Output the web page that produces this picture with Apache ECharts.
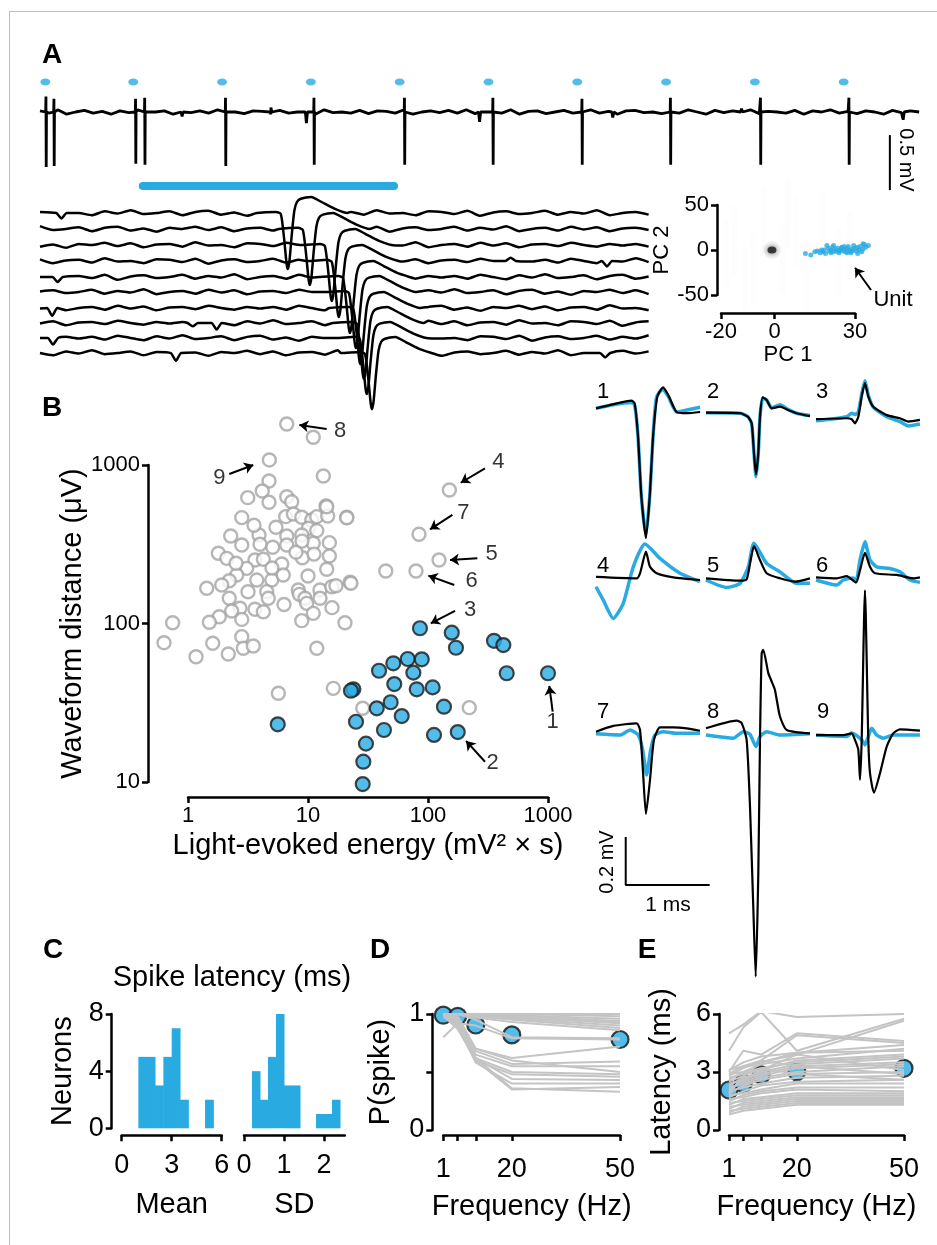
<!DOCTYPE html>
<html>
<head>
<meta charset="utf-8">
<script src="https://cdn.jsdelivr.net/npm/echarts@6/dist/echarts.min.js"></script>
<style>
  html, body { margin: 0; padding: 0; background: #fff; }
  #frame { position: absolute; left: 9px; top: 11px; width: 940px; height: 1240px;
           border-left: 1px solid #bdbdbd; border-top: 1px solid #bdbdbd; }
  #chart { position: absolute; left: 0; top: 0; width: 937px; height: 1245px; }
</style>
</head>
<body>
<div id="frame"></div>
<div id="chart"></div>
<script>
// ---------- A: continuous recording (time s, mV) ----------
const pulseTimes = [0.06, 1.05, 2.05, 3.05, 4.05, 5.05, 6.05, 7.05, 8.05, 9.05];
const spikeTimes = [0.068, 0.158, 1.077, 1.180, 2.090, 3.086, 4.105, 5.101, 6.104, 7.100, 8.114, 9.110];
const spikeDepths = [-0.50, -0.49, -0.47, -0.48, -0.49, -0.48, -0.48, -0.48, -0.48, -0.48, -0.48, -0.48];
const spikeTops = [0.14, 0.12, 0.12, 0.13, 0.13, 0.13, 0.13, 0.13, 0.12, 0.13, 0.13, 0.13];
// baseline noise, one value every 0.1 s
const noiseA = [0.01, -0.01, 0.02, -0.02, 0.0, 0.015, -0.01, 0.005, -0.02, 0.01,
  -0.005, 0.02, -0.015, 0.0, 0.01, -0.02, 0.015, -0.005, 0.01, -0.01,
  0.02, -0.01, 0.0, -0.015, 0.01, 0.005, -0.02, 0.015, -0.01, 0.0,
  0.01, -0.02, 0.02, -0.005, 0.0, -0.01, 0.015, -0.015, 0.01, 0.005,
  -0.01, 0.02, -0.02, 0.0, 0.01, -0.005, 0.015, -0.01, 0.02, -0.015,
  0.0, 0.01, -0.01, 0.02, -0.02, 0.005, 0.01, -0.015, 0.0, 0.015,
  -0.01, 0.0, 0.02, -0.01, 0.005, -0.02, 0.01, 0.015, -0.005, 0.0,
  -0.015, 0.01, -0.01, 0.02, 0.0, -0.02, 0.015, -0.005, 0.01, -0.01,
  0.02, -0.015, 0.005, 0.0, -0.01, 0.015, -0.02, 0.01, 0.0, 0.02,
  -0.01, 0.005, -0.015, 0.01, 0.0, -0.02, 0.015, -0.005, 0.01, 0.0];
const blipsA = [[3.0, -0.10], [4.95, -0.09], [9.72, -0.07], [2.6, 0.04], [6.45, -0.05], [1.6, -0.04], [7.9, 0.03]];

// ---------- A: aligned trials (ms from light onset, mV) ----------
const latencies = [5.75, 6.60, 7.45, 7.72, 8.15, 8.38, 8.55, 8.69, 8.80, 9.00];
const trialOffsets = [0, -0.145, -0.291, -0.436, -0.582, -0.718, -0.864, -1.0, -1.136, -1.273];
const spikeShape = [[-1.2, 0], [-0.45, 0.01], [-0.27, -0.01], [-0.15, -0.22], [-0.05, -0.46], [0, -0.51],
  [0.06, -0.44], [0.15, -0.2], [0.25, 0.02], [0.35, 0.1], [0.5, 0.13], [0.9, 0.145], [1.3, 0.1], [1.8, 0.04], [2.3, 0]];
const trialNoise = [0.01, -0.015, 0.02, 0.0, -0.02, 0.015, -0.005, 0.025, -0.01, 0.0,
  0.015, -0.02, 0.01, 0.02, -0.015, 0.005, -0.025, 0.01, 0.0, 0.02,
  -0.01, 0.015, -0.02, 0.005, 0.01, -0.015, 0.025, -0.005, 0.0, -0.02,
  0.015, 0.01, -0.01, 0.02, -0.025, 0.005, 0.015, -0.01, 0.0, 0.02,
  -0.015, 0.01, -0.005, 0.025, -0.02, 0.0, 0.01, -0.015, 0.02, -0.005,
  0.015, -0.02, 0.005, 0.01, -0.01, 0.02, 0.0, -0.015, 0.01, -0.005];
const trialBlips = [[0, -2.99, -0.05], [4, -3.14, -0.045], [6, -3.35, -0.07], [7, 2.08, -0.03], [7, 3.0, -0.06],
  [8, -3.32, -0.06], [9, 1.43, -0.07], [9, 18.0, -0.04], [3, 18.07, -0.05], [3, 14.35, 0.03]];
const lightOn = [0.15, 9.85];

// ---------- A: PCA inset ----------
const unitPC = [[11.5, -4], [13.5, -5.5], [15, -2], [16, -1], [17, -3], [18, -2], [18.5, 0], [19, -4], [20, 2], [20.5, -1],
  [21, 0], [21.5, 3], [22, -2], [22.5, 1], [23, -1], [23.5, 2], [24, -3], [24.5, 0], [25, 3], [25.5, -1],
  [26, 1], [26.5, -2], [27, 2], [27.5, 4], [28, 0], [28.5, -3], [29, 1], [29.5, 5], [30, 2], [30.5, -1],
  [31, 3], [31.5, 0], [32, 4], [32.5, -2], [33, 1], [33.5, 6], [34, 3], [35, 5], [19.5, 5], [22, 5],
  [26, 4], [28, -1], [31, -4], [24, -1], [27, -3], [29, -1], [25, 2], [21, -3], [17.5, 0], [33, 7]];
const noiseCluster = [[-1, 0]];
const noiseStreaks = [[-15, 10], [-8, -20], [-4, 30], [3, -10], [8, 20], [12, -30], [18, 25], [24, -15], [28, 5], [-11, -35], [5, 40], [-18, -5]];
const unitArrow = [[35.97, -44.4], [30, -19.7]];

// ---------- B: log10 energy, log10 waveform distance ----------
const grayLog = [
  [0.823, 3.259], [1.044, 3.175], [0.678, 3.032], [1.128, 2.931], [0.675, 2.899], [0.619, 2.836], [0.498, 2.794], [0.675, 2.765], [0.823, 2.80], [0.864, 2.768],
  [1.15, 2.741], [0.448, 2.668], [0.814, 2.674], [0.878, 2.691], [0.948, 2.67], [1.031, 2.653], [1.073, 2.674], [1.164, 2.678], [1.323, 2.67], [1.003, 2.601],
  [0.733, 2.607], [0.592, 2.558], [0.356, 2.552], [0.823, 2.552], [0.948, 2.558], [1.073, 2.586], [0.448, 2.495], [0.253, 2.443], [0.323, 2.411], [0.706, 2.481],
  [0.823, 2.495], [1.044, 2.506], [1.178, 2.51], [1.178, 2.426], [0.953, 2.415], [1.05, 2.438], [0.558, 2.401], [0.628, 2.405], [0.781, 2.375], [0.489, 2.348],
  [0.573, 2.274], [0.698, 2.274], [0.794, 2.306], [0.406, 2.306], [0.344, 2.27], [0.281, 2.243], [0.156, 2.222], [0.656, 2.201], [1.156, 2.342], [0.919, 2.211],
  [0.928, 2.184], [1.10, 2.211], [1.198, 2.232], [1.233, 2.238], [1.35, 2.26], [0.344, 2.159], [0.669, 2.159], [0.975, 2.159], [1.10, 2.159], [0.433, 2.096],
  [0.558, 2.09], [0.628, 2.074], [0.364, 2.079], [0.989, 2.127], [1.044, 2.064], [0.448, 2.026], [0.261, 2.043], [0.178, 2.008], [0.948, 2.018], [1.308, 2.005],
  [-0.128, 2.005], [-0.2, 1.879], [0.206, 1.875], [0.448, 1.917], [0.461, 1.844], [0.544, 1.858], [0.336, 1.808], [0.067, 1.79], [1.073, 1.844], [0.753, 1.56],
  [1.211, 1.591], [1.456, 1.465], [2.178, 2.842], [1.925, 2.563], [2.092, 2.401], [1.90, 2.331], [1.648, 2.331], [2.344, 1.469], [1.358, 2.254], [1.156, 2.737],
  [1.323, 2.667], [0.55, 2.62], [0.9, 2.45], [0.7, 2.35], [1.0, 2.3], [0.5, 2.2], [0.8, 2.12], [1.2, 2.1], [0.6, 2.5], [0.95, 2.52], [0.4, 2.38]];
const blueLog = [
  [1.933, 1.970], [2.198, 1.942], [2.233, 1.847], [2.55, 1.891], [2.628, 1.864], [2.656, 1.686], [3.0, 1.686], [1.592, 1.702], [1.711, 1.749], [1.831, 1.776],
  [1.948, 1.774], [1.878, 1.690], [1.719, 1.618], [1.906, 1.585], [2.039, 1.597], [1.378, 1.585], [1.358, 1.576], [1.573, 1.465], [1.689, 1.503], [1.781, 1.416],
  [2.133, 1.475], [1.40, 1.380], [1.633, 1.328], [2.05, 1.297], [2.248, 1.315], [1.483, 1.242], [1.461, 1.128], [1.456, 0.987], [0.748, 1.364]];
// arrows: tail (log x, log y) -> head (log x, log y)
const arrowsB = [[1.156, 3.227, 0.928, 3.252], [0.344, 2.943, 0.544, 3.0], [2.475, 2.979, 2.273, 2.888],
  [2.203, 2.685, 2.017, 2.594], [2.411, 2.411, 2.183, 2.401], [2.219, 2.243, 2.003, 2.302],
  [2.225, 2.079, 2.023, 2.001], [3.039, 1.444, 3.011, 1.606], [2.475, 1.128, 2.317, 1.259]];
const labelsB = [['8', 1.267, 3.216], ['9', 0.261, 2.916], ['4', 2.586, 3.021], ['7', 2.294, 2.695], ['5', 2.531, 2.438],
  ['6', 2.364, 2.268], ['3', 2.35, 2.085], ['1', 3.039, 1.38], ['2', 2.539, 1.118]];

// ---------- B: mean waveforms (ms within window, mV from baseline) ----------
const wfBlack = [
  [[0, 0.015], [0.2, 0.032], [0.42, 0.047], [0.46, 0.036], [0.5, -0.1], [0.54, -0.35], [0.595, -0.526], [0.64, -0.35], [0.68, -0.1], [0.73, 0.064], [0.8, 0.103], [0.86, 0.071], [0.96, 0], [1.08, -0.005], [1.24, 0]],
  [[0, -0.003], [0.405, -0.005], [0.5, -0.02], [0.544, -0.047], [0.571, -0.17], [0.595, -0.26], [0.623, -0.17], [0.643, -0.02], [0.675, 0.061], [0.722, 0.05], [0.782, 0.015], [0.881, 0.022], [0.98, 0.008], [1.08, -0.005], [1.238, -0.017]],
  [[0, -0.03], [0.365, -0.026], [0.425, -0.03], [0.464, -0.047], [0.504, -0.02], [0.544, 0.064], [0.583, 0.12], [0.623, 0.064], [0.682, 0.022], [0.842, -0.013], [1.0, -0.026], [1.099, -0.04], [1.238, -0.033]],
  [[0, 0.005], [0.484, -0.001], [0.524, 0.02], [0.595, 0.11], [0.643, 0.047], [0.722, 0.02], [0.92, 0.003], [1.238, -0.008]],
  [[0, -0.001], [0.405, -0.011], [0.484, -0.005], [0.532, 0.075], [0.571, 0.133], [0.643, 0.075], [0.722, 0.02], [0.881, -0.001], [1.06, -0.015], [1.238, -0.001]],
  [[0, 0.003], [0.246, -0.001], [0.365, 0.008], [0.476, -0.018], [0.524, 0.033], [0.583, 0.105], [0.643, 0.047], [0.702, 0.02], [0.961, 0.013], [1.159, -0.001], [1.238, 0.003]],
  [[0, 0.001], [0.206, 0.025], [0.484, 0.036], [0.524, 0.008], [0.556, -0.144], [0.595, -0.342], [0.643, -0.2], [0.69, -0.033], [0.762, 0.019], [0.92, 0.019], [1.08, 0.015], [1.238, 0.005]],
  [[0, 0.015], [0.365, 0.047], [0.425, 0.036], [0.484, -0.033], [0.524, -0.311], [0.563, -0.728], [0.592, -1.02], [0.623, -0.589], [0.643, -0.033], [0.663, 0.328], [0.682, 0.342], [0.742, 0.245], [0.782, 0.21], [0.821, 0.175], [0.881, 0.064], [0.961, 0.008], [1.238, -0.006]],
  [[0, -0.013], [0.325, -0.013], [0.425, -0.006], [0.464, -0.033], [0.504, -0.075], [0.524, -0.2], [0.544, -0.033], [0.583, 0.59], [0.623, -0.033], [0.643, -0.172], [0.69, -0.253], [0.762, -0.172], [0.842, -0.061], [0.92, -0.006], [1.0, 0.011], [1.238, 0.005]]];
const wfBlue = [
  [[0, 0.015], [0.2, 0.03], [0.42, 0.04], [0.46, 0.03], [0.5, -0.1], [0.54, -0.35], [0.595, -0.51], [0.64, -0.35], [0.68, -0.1], [0.72, 0.06], [0.79, 0.095], [0.86, 0.065], [0.96, 0.0], [1.08, 0.008], [1.24, 0.02]],
  [[0, -0.003], [0.405, -0.005], [0.5, -0.02], [0.544, -0.05], [0.571, -0.17], [0.595, -0.27], [0.623, -0.17], [0.643, -0.02], [0.675, 0.058], [0.722, 0.05], [0.782, 0.018], [0.881, 0.03], [0.98, 0.01], [1.08, -0.005], [1.238, -0.015]],
  [[0, -0.037], [0.365, -0.02], [0.425, -0.005], [0.464, -0.01], [0.504, 0.0], [0.544, 0.075], [0.583, 0.13], [0.623, 0.07], [0.682, 0.02], [0.842, -0.02], [1.0, -0.04], [1.099, -0.058], [1.238, -0.05]],
  [[0, -0.036], [0.087, -0.092], [0.206, -0.168], [0.325, -0.105], [0.444, 0.047], [0.583, 0.142], [0.762, 0.082], [1.0, 0.02], [1.238, -0.015]],
  [[0, -0.008], [0.246, -0.039], [0.405, -0.022], [0.504, 0.047], [0.571, 0.145], [0.722, 0.061], [0.881, 0.026], [1.08, -0.022], [1.238, -0.022]],
  [[0, -0.008], [0.246, -0.029], [0.325, -0.008], [0.444, 0.0], [0.476, -0.015], [0.524, 0.075], [0.583, 0.151], [0.643, 0.075], [0.722, 0.047], [0.881, 0.04], [1.0, 0.026], [1.119, -0.008], [1.238, -0.018]],
  [[0, -0.008], [0.286, -0.013], [0.405, 0.008], [0.504, -0.013], [0.556, -0.075], [0.603, -0.179], [0.651, -0.075], [0.702, -0.013], [0.801, 0.001], [0.961, -0.006], [1.238, -0.006]],
  [[0, -0.013], [0.206, -0.022], [0.325, -0.026], [0.444, 0.001], [0.524, -0.01], [0.595, -0.061], [0.643, -0.019], [0.722, 0.001], [0.881, -0.013], [1.238, -0.008]],
  [[0, -0.013], [0.365, -0.019], [0.425, -0.005], [0.544, -0.033], [0.583, -0.054], [0.623, -0.019], [0.663, 0.015], [0.722, -0.013], [0.801, -0.026], [0.92, -0.013], [1.238, -0.013]]];
const wfColStart = [0, 1.31, 2.62];     // ms
const wfRowBase = [0, -0.692, -1.333];  // mV
const wfScaleBar = [[0.354, -1.771], [0.354, -1.971], [1.354, -1.971]];

// ---------- C: latency histograms [bin start, bin end, neurons] ----------
const histMean = [[1, 1.5, 5], [1.5, 2, 5], [2, 2.5, 3], [2.5, 3, 5], [3, 3.5, 7], [3.5, 4, 2], [5, 5.5, 2]];
const histSD = [[0.2, 0.4, 4], [0.4, 0.6, 2], [0.6, 0.8, 5], [0.8, 1.0, 8], [1.0, 1.2, 3], [1.2, 1.4, 3], [1.8, 2.0, 1], [2.0, 2.2, 1], [2.2, 2.4, 2]];

// ---------- D, E: frequency following ----------
const freqs = [1, 5, 10, 20, 50];
const freqLabels = [1, 20, 50];
const pLines = [
  [1, 1, 1, 1, 1], [1, 1, 1, 1, 0.98], [1, 1, 1, 0.99, 0.96], [1, 1, 1, 0.98, 0.94], [1, 1, 1, 0.97, 0.92],
  [1, 1, 0.99, 0.96, 0.9], [1, 1, 0.98, 0.95, 0.88], [1, 1, 0.97, 0.93, 0.86], [1, 1, 1, 0.99, 0.93],
  [1, 1, 0.95, 0.8, 0.79], [0.8, 0.92, 0.9, 0.79, 0.78], [1, 0.98, 0.7, 0.62, 0.72], [1, 0.97, 0.68, 0.57, 0.59],
  [1, 0.95, 0.65, 0.55, 0.55], [1, 0.93, 0.62, 0.5, 0.48], [1, 0.92, 0.6, 0.48, 0.46], [1, 0.9, 0.62, 0.44, 0.43],
  [1, 0.9, 0.58, 0.4, 0.4], [1, 0.88, 0.62, 0.36, 0.33], [0.98, 0.87, 0.6, 0.35, 0.37], [1, 0.95, 0.7, 0.6, 0.5]];
const pMean = [0.99, 0.98, 0.905, 0.82, 0.78];
const latLines = [
  [5.0, 5.45, 6.15, 5.85, 6.0], [4.1, 5.3, 6.1, 4.1, 5.75], [3.0, 4.1, 3.9, 5.0, 4.6], [2.9, 3.3, 3.6, 4.9, 4.5],
  [3.1, 3.3, 3.5, 3.9, 5.65], [2.8, 3.2, 3.5, 4.0, 4.4], [2.6, 3.0, 3.4, 3.7, 4.2], [2.7, 2.9, 3.1, 3.6, 3.9],
  [2.5, 2.8, 3.2, 3.5, 3.8], [2.3, 2.7, 3.0, 3.4, 3.7], [2.4, 2.6, 2.9, 3.3, 3.5], [2.1, 2.5, 2.8, 3.2, 3.4],
  [2.2, 2.4, 2.7, 3.0, 3.3], [1.9, 2.3, 2.6, 2.9, 3.0], [2.0, 2.2, 2.4, 2.7, 2.8], [1.7, 2.0, 2.3, 2.5, 2.6],
  [1.8, 1.9, 2.1, 2.4, 2.4], [1.5, 1.8, 2.0, 2.2, 2.2], [1.6, 1.7, 1.9, 2.1, 2.0], [1.3, 1.6, 1.7, 1.9, 1.9],
  [1.4, 1.5, 1.6, 1.8, 1.8], [1.1, 1.4, 1.5, 1.7, 1.7], [1.2, 1.3, 1.4, 1.6, 1.6], [0.9, 1.2, 1.3, 1.5, 1.5],
  [1.0, 1.1, 1.2, 1.4, 1.4], [0.8, 1.0, 1.1, 1.3, 1.3], [2.9, 3.0, 3.2, 2.9, 2.6], [2.0, 2.6, 3.1, 3.9, 3.1],
  [3.1, 3.5, 3.8, 4.0, 4.1], [1.9, 2.8, 3.6, 3.3, 2.9]];
const latMean = [2.07, 2.41, 2.85, 3.02, 3.19];

// ---------- styling ----------
const FONT = 'Liberation Sans, Arial, Helvetica, sans-serif';
const BLUE = '#29abe2';
const GREY_LINE = '#c4c4c4';
const TITLE = 29;

function shownAxis(o, labelSize, labelMargin) {
  const base = {
    type: 'value',
    axisLine: { show: true, onZero: false, lineStyle: { color: '#000', width: 2.5 } },
    axisTick: { show: true, length: 6, lineStyle: { color: '#000', width: 2.5 } },
    axisLabel: { color: '#000', fontSize: labelSize, fontFamily: FONT, margin: labelMargin || 8 },
    splitLine: { show: false },
    nameLocation: 'middle',
    nameTextStyle: { color: '#000', fontSize: TITLE, fontFamily: FONT }
  };
  ['axisTick', 'axisLabel', 'nameTextStyle'].forEach(k => {
    if (o[k]) { o[k] = Object.assign({}, base[k], o[k]); }
  });
  return Object.assign(base, o);
}
function hiddenAxis(o) { return Object.assign({ type: 'value', show: false }, o); }

// build continuous trace
const traceA = noiseA.map((v, i) => [i * 0.1, v]);
spikeTimes.forEach((t, i) => {
  traceA.push([t - 0.004, 0], [t - 0.001, spikeTops[i]], [t + 0.002, spikeDepths[i]], [t + 0.005, 0]);
});
blipsA.forEach(([t, a]) => traceA.push([t - 0.012, 0], [t, a], [t + 0.012, 0]));
traceA.sort((a, b) => a[0] - b[0]);

// build aligned trials
function trialTrace(i) {
  const lat = latencies[i], off = trialOffsets[i];
  const myBlips = trialBlips.filter(b => b[0] === i);
  const pts = [];
  for (let j = 0; -3.82 + j * 0.5 <= 19.81; j++) {
    const t = -3.82 + j * 0.5;
    if (t > lat - 1.3 && t < lat + 2.4) continue;
    if (myBlips.some(b => Math.abs(b[1] - t) < 0.35)) continue;
    pts.push([t, off + trialNoise[(j + 7 * i) % trialNoise.length]]);
  }
  spikeShape.forEach(p => pts.push([lat + p[0], off + p[1]]));
  myBlips.forEach(b => pts.push([b[1] - 0.2, off], [b[1], off + b[2]], [b[1] + 0.2, off]));
  return pts.sort((a, b) => a[0] - b[0]);
}

const series = [];
// A top
series.push({ type: 'line', xAxisIndex: 0, yAxisIndex: 0, data: traceA, showSymbol: false, silent: true,
  lineStyle: { color: '#000', width: 2.8 } });
series.push({ type: 'scatter', xAxisIndex: 0, yAxisIndex: 0, data: pulseTimes.map(t => [t, 0.273]),
  symbol: 'circle', symbolSize: [10, 7], itemStyle: { color: BLUE } });
series.push({ type: 'line', xAxisIndex: 0, yAxisIndex: 0, data: [[9.57, -0.21], [9.57, -0.71]], showSymbol: false,
  lineStyle: { color: '#000', width: 2 } });
// A trials
series.push({ type: 'line', xAxisIndex: 1, yAxisIndex: 1, data: lightOn.map(t => [t, 0.245]), showSymbol: false,
  lineStyle: { color: BLUE, width: 8, cap: 'round' } });
latencies.forEach((_, i) => series.push({ type: 'line', xAxisIndex: 1, yAxisIndex: 1, data: trialTrace(i),
  showSymbol: false, smooth: 0.2, lineStyle: { color: '#000', width: 2.5 } }));
// PCA inset
series.push({ type: 'scatter', xAxisIndex: 2, yAxisIndex: 2, data: noiseStreaks, symbol: 'rect', symbolSize: [6, 70],
  itemStyle: { color: 'rgba(0,0,0,0.012)' }, clip: false, silent: true });
series.push({ type: 'scatter', xAxisIndex: 2, yAxisIndex: 2, data: noiseCluster, symbolSize: 18,
  itemStyle: { color: 'rgba(0,0,0,0.06)', shadowBlur: 8, shadowColor: 'rgba(0,0,0,0.25)' } });
series.push({ type: 'scatter', xAxisIndex: 2, yAxisIndex: 2, data: noiseCluster, symbolSize: [9, 7],
  itemStyle: { color: '#1a1a1a', shadowBlur: 5, shadowColor: 'rgba(0,0,0,0.7)' } });
series.push({ type: 'scatter', xAxisIndex: 2, yAxisIndex: 2, data: unitPC, symbolSize: 5, clip: false,
  itemStyle: { color: BLUE } });
series.push({ type: 'lines', coordinateSystem: 'cartesian2d', xAxisIndex: 2, yAxisIndex: 2, clip: false,
  data: [{ coords: unitArrow }], symbol: ['none', 'arrow'], symbolSize: 9,
  lineStyle: { color: '#000', width: 2, opacity: 1 } });
// B scatter
const pow10 = p => [Math.pow(10, p[0]), Math.pow(10, p[1])];
series.push({ type: 'scatter', xAxisIndex: 3, yAxisIndex: 3, data: grayLog.map(pow10), symbolSize: 13, clip: false,
  itemStyle: { color: '#fff', borderColor: '#a4a4a4', borderWidth: 2.4 } });
series.push({ type: 'scatter', xAxisIndex: 3, yAxisIndex: 3, data: blueLog.map(pow10), symbolSize: 14, clip: false,
  itemStyle: { color: BLUE, borderColor: '#1a1a1a', borderWidth: 2.2 } });
series.push({ type: 'lines', coordinateSystem: 'cartesian2d', xAxisIndex: 3, yAxisIndex: 3, clip: false,
  data: arrowsB.map(a => ({ coords: [pow10([a[0], a[1]]), pow10([a[2], a[3]])] })),
  symbol: ['none', 'arrow'], symbolSize: 9, lineStyle: { color: '#000', width: 2, opacity: 1 } });
series.push({ type: 'scatter', xAxisIndex: 3, yAxisIndex: 3, clip: false, symbolSize: 1,
  itemStyle: { color: 'transparent' },
  data: labelsB.map(l => ({ name: l[0], value: pow10([l[1], l[2]]) })),
  label: { show: true, position: 'inside', formatter: '{b}', color: '#000', fontSize: 22, fontFamily: FONT } });
// B waveforms
[wfBlue, wfBlack].forEach((set, k) => {
  set.forEach((wf, i) => {
    const c = wfColStart[i % 3], r = wfRowBase[Math.floor(i / 3)];
    series.push({ type: 'line', xAxisIndex: 4, yAxisIndex: 4, showSymbol: false, smooth: 0.2,
      data: wf.map(p => [c + p[0], r + p[1]]),
      lineStyle: k === 0 ? { color: BLUE, width: 3.5 } : { color: '#000', width: 2.2 } });
  });
});
series.push({ type: 'line', xAxisIndex: 4, yAxisIndex: 4, data: wfScaleBar, showSymbol: false,
  lineStyle: { color: '#000', width: 2 } });
// C histograms
function histSeries(data, ax) {
  return { type: 'custom', xAxisIndex: ax, yAxisIndex: ax, data: data, encode: { x: [0, 1], y: 2 },
    renderItem: (params, api) => {
      const p0 = api.coord([api.value(0), api.value(2)]);
      const p1 = api.coord([api.value(1), 0]);
      return { type: 'rect', shape: { x: p0[0], y: p0[1], width: p1[0] - p0[0] + 0.5, height: p1[1] - p0[1] },
        style: { fill: BLUE } };
    } };
}
series.push(histSeries(histMean, 5));
series.push(histSeries(histSD, 6));
// D, E
pLines.forEach(l => series.push({ type: 'line', xAxisIndex: 7, yAxisIndex: 7, showSymbol: false, silent: true,
  data: freqs.map((f, i) => [f, l[i]]), lineStyle: { color: GREY_LINE, width: 2 } }));
series.push({ type: 'scatter', xAxisIndex: 7, yAxisIndex: 7, data: freqs.map((f, i) => [f, pMean[i]]),
  symbolSize: 17, clip: false, itemStyle: { color: BLUE, borderColor: '#111', borderWidth: 2.2 } });
latLines.forEach(l => series.push({ type: 'line', xAxisIndex: 8, yAxisIndex: 8, showSymbol: false, silent: true,
  data: freqs.map((f, i) => [f, l[i]]), lineStyle: { color: GREY_LINE, width: 2 } }));
series.push({ type: 'scatter', xAxisIndex: 8, yAxisIndex: 8, data: freqs.map((f, i) => [f, latMean[i]]),
  symbolSize: 17, clip: false, itemStyle: { color: BLUE, borderColor: '#111', borderWidth: 2.2 } });

function txt(text, x, y, size, extra) {
  return Object.assign({ type: 'text', x: x, y: y, silent: true,
    style: { text: text, fill: '#000', fontSize: size, fontFamily: FONT, align: 'center', verticalAlign: 'middle',
      fontWeight: (extra && extra.bold) ? 'bold' : 'normal' } }, extra && extra.rotation ? { rotation: extra.rotation } : {});
}
const wfNumPos = [[603, 392], [713, 392], [822, 392], [603, 566], [713, 566], [822, 566], [603, 712], [713, 712], [823, 712]];
const graphics = [
  txt('A', 52, 55, 28, { bold: true }), txt('B', 52, 408, 28, { bold: true }), txt('C', 53, 950, 28, { bold: true }),
  txt('D', 380, 950, 28, { bold: true }), txt('E', 647, 950, 28, { bold: true }),
  txt('0.5 mV', 906, 160, 20, { rotation: -Math.PI / 2 }),
  txt('Spike latency (ms)', 232, 978, 29),
  txt('Unit', 893, 300, 22),
  txt('0.2 mV', 607, 862, 20, { rotation: Math.PI / 2 }),
  txt('1 ms', 668, 905, 21)
].concat(wfNumPos.map((p, i) => txt(String(i + 1), p[0], p[1], 22)));

const logLabel = v => String(Math.round(v));
const option = {
  animation: false,
  backgroundColor: 'transparent',
  grid: [
    { left: 40, top: 57, width: 882, height: 143 },
    { left: 40, top: 180, width: 612, height: 253 },
    { left: 721, top: 205, width: 134, height: 90 },
    { left: 188, top: 465, width: 360, height: 317 },
    { left: 596, top: 376, width: 330, height: 612 },
    { left: 121.7, top: 1014, width: 100, height: 114.3 },
    { left: 244, top: 1014, width: 100.8, height: 114.3 },
    { left: 443.3, top: 1014, width: 176.7, height: 116 },
    { left: 729, top: 1014, width: 175, height: 116 }
  ],
  xAxis: [
    hiddenAxis({ gridIndex: 0, min: 0, max: 9.932 }),
    hiddenAxis({ gridIndex: 1, min: -3.82, max: 19.81 }),
    shownAxis({ gridIndex: 2, min: -20, max: 30, offset: 18, name: 'PC 1', nameGap: 28,
      nameTextStyle: { fontSize: 22 },
      axisTick: { customValues: [-20, 0, 30] }, axisLabel: { customValues: [-20, 0, 30] } }, 22),
    shownAxis({ gridIndex: 3, type: 'log', logBase: 10, min: 1, max: 1000, offset: 15,
      name: 'Light-evoked energy (mV² × s)', nameGap: 34, axisLabel: { formatter: logLabel } }, 22),
    hiddenAxis({ gridIndex: 4, min: 0, max: 3.93 }),
    shownAxis({ gridIndex: 5, min: 0, max: 6, interval: 3, offset: 7, name: 'Mean', nameGap: 55 }, 27, 17),
    shownAxis({ gridIndex: 6, min: 0, max: 2.52, interval: 1, offset: 7, name: 'SD', nameGap: 55 }, 27, 17),
    shownAxis({ gridIndex: 7, min: 1, max: 50, offset: 5, name: 'Frequency (Hz)', nameGap: 57,
      axisTick: { customValues: freqs }, axisLabel: { customValues: freqLabels } }, 27, 21),
    shownAxis({ gridIndex: 8, min: 1, max: 50, offset: 5, name: 'Frequency (Hz)', nameGap: 57,
      axisTick: { customValues: freqs }, axisLabel: { customValues: freqLabels } }, 27, 21)
  ],
  yAxis: [
    hiddenAxis({ gridIndex: 0, min: -0.8, max: 0.5 }),
    hiddenAxis({ gridIndex: 1, min: -2.0, max: 0.3 }),
    shownAxis({ gridIndex: 2, min: -50, max: 50, interval: 50, offset: 4, name: 'PC 2', nameGap: 32,
      nameTextStyle: { fontSize: 22 } }, 22),
    shownAxis({ gridIndex: 3, type: 'log', logBase: 10, min: 10, max: 1000, offset: 40,
      name: 'Waveform distance (μV)', nameGap: 60, axisLabel: { formatter: logLabel } }, 22),
    hiddenAxis({ gridIndex: 4, min: -2.4, max: 0.15 }),
    shownAxis({ gridIndex: 5, min: 0, max: 8, interval: 4, offset: 10, name: 'Neurons', nameGap: 34 }, 27),
    hiddenAxis({ gridIndex: 6, min: 0, max: 8 }),
    shownAxis({ gridIndex: 7, min: 0, max: 1, interval: 0.5, offset: 11, name: 'P(spike)', nameGap: 37,
      axisLabel: { customValues: [0, 1] } }, 27),
    shownAxis({ gridIndex: 8, min: 0, max: 6, interval: 3, offset: 10, name: 'Latency (ms)', nameGap: 43 }, 27)
  ],
  series: series,
  graphic: graphics
};

const chart = echarts.init(document.getElementById('chart'), null, { renderer: 'canvas' });
chart.setOption(option);
</script>
</body>
</html>
